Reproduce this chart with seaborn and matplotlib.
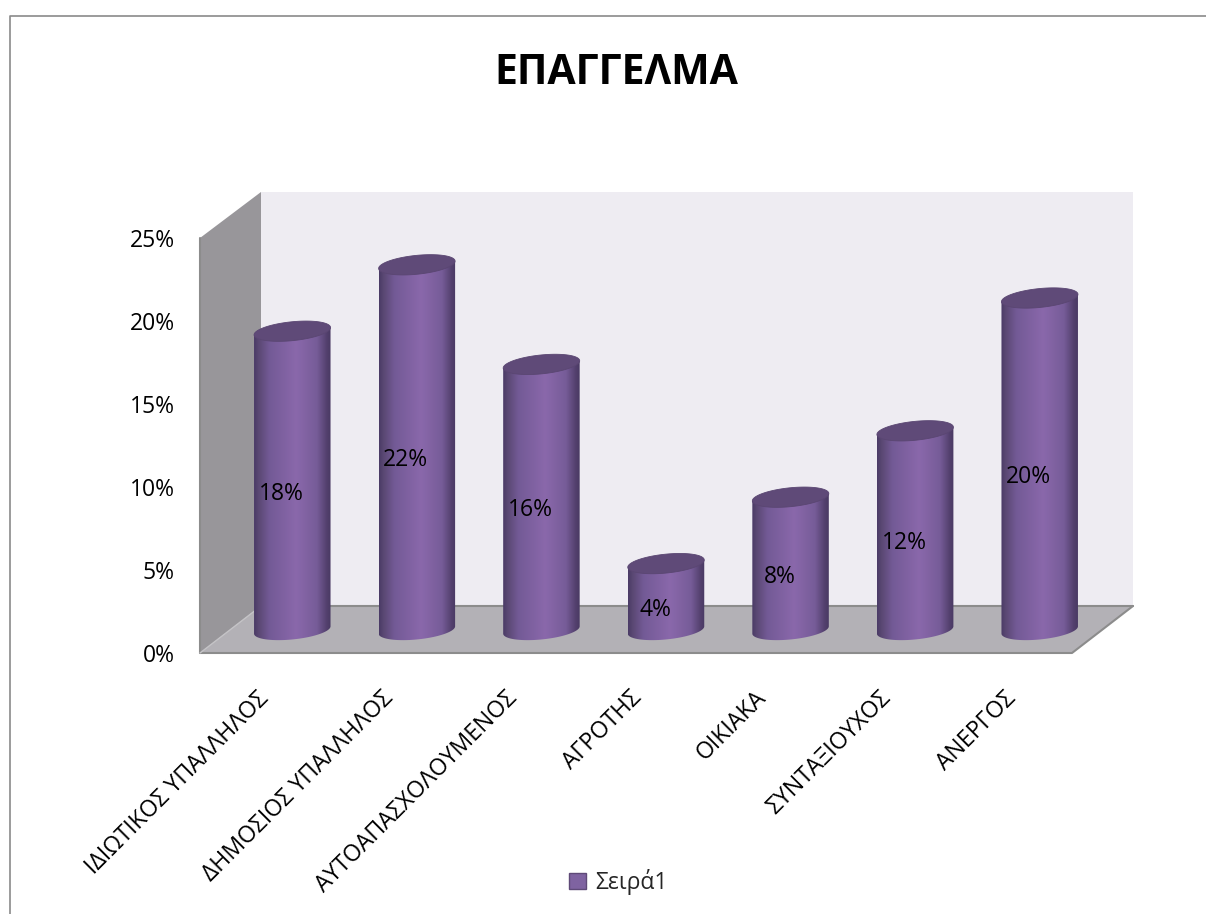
import numpy as np
import matplotlib
matplotlib.use("Agg")
import matplotlib.pyplot as plt
import seaborn as sns
from matplotlib.colors import LinearSegmentedColormap
from matplotlib.patches import Patch, Polygon
from matplotlib.transforms import ScaledTranslation

categories = ["ΙΔΙΩΤΙΚΟΣ ΥΠΑΛΛΗΛΟΣ", "ΔΗΜΟΣΙΟΣ ΥΠΑΛΛΗΛΟΣ", "ΑΥΤΟΑΠΑΣΧΟΛΟΥΜΕΝΟΣ",
              "ΑΓΡΟΤΗΣ", "ΟΙΚΙΑΚΑ", "ΣΥΝΤΑΞΙΟΥΧΟΣ", "ΑΝΕΡΓΟΣ"]
values = [18, 22, 16, 4, 8, 12, 20]
y_ticks = [0, 5, 10, 15, 20, 25]
title = "ΕΠΑΓΓΕΛΜΑ"
series_name = "Σειρά1"

W, H = 1206, 914


def px_axes(fig, x0, y0, x1, y1):
    # pixel box (y measured from the top) to figure axes
    return fig.add_axes([x0 / W, 1 - y1 / H, (x1 - x0) / W, (y1 - y0) / H])


sns.set_theme(style="white")
plt.rcParams["font.family"] = ["Open Sans", "DejaVu Sans"]

fig = plt.figure(figsize=(W / 100, H / 100), dpi=100, facecolor="white")

# chart frame and the 3d box behind the bars
box = px_axes(fig, 0, 0, W, H)
box.set_xlim(0, W)
box.set_ylim(H, 0)
box.axis("off")
box.plot([9.5, 9.5, 1206], [914, 15.5, 15.5], color="#8a8a8a", lw=1.2)
box.add_patch(Polygon([(261, 192), (1133, 192), (1133, 606), (261, 606)], fc="#eeecf2", ec="none"))
box.add_patch(Polygon([(200, 238), (261, 192), (261, 606), (200, 653)], fc="#98969a", ec="none"))
box.add_patch(Polygon([(200, 653), (261, 606), (1133, 606), (1072, 653)], fc="#b3b1b6", ec="none"))
box.plot([261, 1133], [606, 606], color="#8c8c8c", lw=1.5)
box.plot([200, 1072, 1133], [653, 653, 606], color="#8c8c8c", lw=1.5)
box.plot([200, 200], [238, 653], color="#8c8c8c", lw=1.5)
box.plot([200, 261], [653, 606], color="#c4c3c6", lw=1)
box.text(616, 73, title, ha="center", va="center", fontsize=29.5, fontweight="bold", color="black")

# axis labels live on the front plane of the box
front = px_axes(fig, 200, 238, 1072, 653)
front.patch.set_visible(False)
front.set_xlim(-0.5, 6.5)
front.set_ylim(0, 25)
front.set_yticks(y_ticks)
front.set_yticklabels([f"{t}%" for t in y_ticks], fontsize=16.5, color="black")
front.set_xticks(range(len(categories)))
front.set_xticklabels(categories, rotation=45, ha="right", rotation_mode="anchor", fontsize=16.6, color="black")
front.tick_params(axis="y", length=0, pad=18)
front.tick_params(axis="x", length=0, pad=24)
shift = ScaledTranslation(-6 / 100, 0, fig.dpi_scale_trans)
for lab in front.get_xticklabels():
    lab.set_transform(lab.get_transform() + shift)
sns.despine(ax=front, left=True, bottom=True)

# bars sit half way into the box depth
ax = px_axes(fig, 230, 215, 1102, 630)
ax.patch.set_visible(False)
sns.barplot(x=categories, y=values, width=0.614, color="#7f63a1", saturation=1, ax=ax)
ax.set_xlim(-0.5, 6.5)
ax.set_ylim(0, 25)
ax.axis("off")

cyl = LinearSegmentedColormap.from_list(
    "cyl", [(0, "#4a3a66"), (0.06, "#5a4873"), (0.2, "#735a96"), (0.55, "#8a68ab"),
            (0.82, "#765c98"), (0.95, "#523f6c"), (1, "#4a3a64")])
grad = np.linspace(0, 1, 256).reshape(1, -1)
b = 0.57   # half height of the ellipses, in %
k = 0.22   # tilt of the ellipses, in %
t = np.linspace(0, 2 * np.pi, 120)

for bar, val in zip(ax.patches, values):
    x0 = bar.get_x()
    a = bar.get_width() / 2
    cx = x0 + a
    top = bar.get_height()
    bar.set_visible(False)
    tb = np.linspace(0, np.pi, 60)
    low = np.column_stack([cx + a * np.cos(tb), -b * np.sin(tb) + k * np.cos(tb)])
    body = np.vstack([[[x0, top - k], [x0 + 2 * a, top + k]], low])
    clip = Polygon(body, transform=ax.transData, fc="none", ec="none", clip_on=False)
    ax.add_patch(clip)
    im = ax.imshow(grad, extent=[x0, x0 + 2 * a, -b - k, top + k], aspect="auto", cmap=cyl, zorder=3)
    im.set_clip_box(fig.bbox)
    im.set_clip_path(clip)
    ax.fill(cx + a * np.cos(t), top + b * np.sin(t) + k * np.cos(t), fc="#5f4a78", ec="#5a4672", lw=0.6, zorder=4)
    ax.annotate(f"{val}%", (cx, top / 2), xytext=(-11, -13), textcoords="offset pixels",
                ha="center", va="center", fontsize=16.5, color="black", zorder=5)

ax.set_xlim(-0.5, 6.5)
ax.set_ylim(0, 25)

fig.legend(handles=[Patch(fc="#7f63a1", ec="#5f4a78", label=series_name)], loc="center",
           bbox_to_anchor=(618.5 / W, 1 - 882 / H), frameon=False, fontsize=16.5,
           handlelength=0.72, handleheight=0.72, handletextpad=0.4)

fig.savefig("out.png", dpi=100)
plt.close(fig)
